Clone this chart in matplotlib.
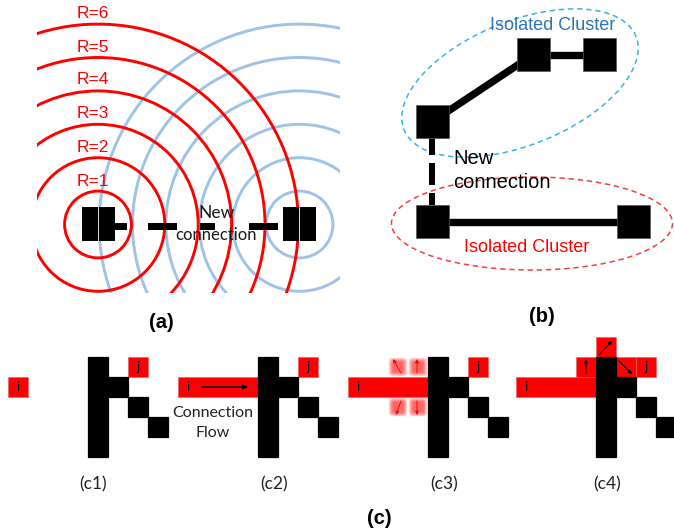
import matplotlib
matplotlib.use('Agg')
import matplotlib.pyplot as plt
from matplotlib.patches import Circle, Rectangle, Ellipse
import numpy as np

W, H = 674, 531
fig = plt.figure(figsize=(W / 100, H / 100), dpi=100)
ax = fig.add_axes([0, 0, 1, 1])

RED = '#FF0000'
BLUE_RING = '#9DC3E6'
SANS = ['Liberation Sans', 'DejaVu Sans']
CAL = ['Lato', 'DejaVu Sans']

# ---------------- panel (a) data ----------------
ring_levels = [1, 2, 3, 4, 5, 6]
ring_step = 33.4
red_center = (98, 224.5)
blue_center = (299.5, 224.5)
r_labels = ['R=1', 'R=2', 'R=3', 'R=4', 'R=5', 'R=6']
r_label_y = [182, 148, 113, 79, 48, 14]
r_label_x = 93
a_clip_box = (37, 0, 303, 293)
a_nodes = [(82, 207), (283, 207)]
a_node_size = (33, 34)
a_dashes = [(115, 127), (148, 177), (200, 215), (249, 278)]
a_dash_y = (223, 230)

clip = Rectangle(a_clip_box[:2], a_clip_box[2], a_clip_box[3], transform=ax.transData)
for k in ring_levels:
    c = Circle(blue_center, k * ring_step, fill=False, ec=BLUE_RING, lw=2.1, zorder=2)
    ax.add_patch(c)
    c.set_clip_path(clip)
for k in ring_levels:
    c = Circle(red_center, k * ring_step, fill=False, ec=RED, lw=2.1, zorder=3)
    ax.add_patch(c)
    c.set_clip_path(clip)
for lab, y in zip(r_labels, r_label_y):
    ax.text(r_label_x, y, lab, color=RED, fontsize=12.5, family=SANS,
            ha='center', va='center', zorder=5)
for (x, y) in a_nodes:
    ax.add_patch(Rectangle((x, y), a_node_size[0], a_node_size[1], fc='black', ec='none', zorder=6))
    ax.plot([x + 16, x + 16], [y, y + a_node_size[1]], color='white', lw=0.6, zorder=7)
for (x0, x1) in a_dashes:
    ax.add_patch(Rectangle((x0, a_dash_y[0]), x1 - x0, a_dash_y[1] - a_dash_y[0],
                           fc='black', ec='none', zorder=6))
ax.text(216, 213, 'New', fontsize=12.5, family=CAL, color='#1a1a1a', ha='center', va='center', zorder=8)
ax.text(216, 235, 'connection', fontsize=12, family=CAL, color='#1a1a1a', ha='center', va='center', zorder=8)
ax.text(161, 323, '(a)', fontsize=14.5, family=SANS, weight='bold', ha='center', va='center')

# ---------------- panel (b) data ----------------
b_nodes = [(416, 105), (517, 38), (583, 38), (416, 205), (617, 205)]
b_node_size = 33
b_edges = [(0, 1), (1, 2), (3, 4)]
b_dash_x = 432
b_dash_segments = [(137, 155), (163, 185), (193, 205)]

for i, j in b_edges:
    xa, ya = b_nodes[i][0] + b_node_size / 2, b_nodes[i][1] + b_node_size / 2
    xb, yb = b_nodes[j][0] + b_node_size / 2, b_nodes[j][1] + b_node_size / 2
    ax.plot([xa, xb], [ya, yb], color='black', lw=5.3, solid_capstyle='butt', zorder=4)
for (x, y) in b_nodes:
    ax.add_patch(Rectangle((x, y), b_node_size, b_node_size, fc='black', ec='#555555', lw=0.5, zorder=6))
for (y0, y1) in b_dash_segments:
    ax.add_patch(Rectangle((b_dash_x - 3, y0), 6, y1 - y0, fc='black', ec='none', zorder=5))
ax.add_patch(Ellipse((520, 83), 250, 124, angle=-22, fill=False, ec='#33B5E8',
                     lw=1.1, ls=(0, (3.5, 2.5)), zorder=3))
ax.add_patch(Ellipse((532, 223.5), 281, 93, angle=0, fill=False, ec='#F04040',
                     lw=1.1, ls=(0, (3.5, 2.5)), zorder=3))
ax.text(553, 26, 'Isolated Cluster', color='#2E75B6', fontsize=13, family=SANS, ha='center', va='center', zorder=8)
ax.text(527, 248, 'Isolated Cluster', color=RED, fontsize=13, family=SANS, ha='center', va='center', zorder=8)
ax.text(453, 159, 'New', fontsize=14.5, family=SANS, ha='left', va='center', zorder=8)
ax.text(453, 183, 'connection', fontsize=14.5, family=SANS, ha='left', va='center', zorder=8)
ax.text(542, 316, '(b)', fontsize=14.5, family=SANS, weight='bold', ha='center', va='center')

# ---------------- panel (c) data ----------------
cell = 20
row0_y = 357
c_origins = [88, 258, 428, 596]
c_labels = ['(c1)', '(c2)', '(c3)', '(c4)']
c_label_x = [93, 274, 444, 607]
black_cells = [(0, 0), (0, 1), (0, 2), (0, 3), (0, 4), (1, 1), (2, 2), (3, 3)]
j_cell = (2, 0)
i_cell_c1 = (-4, 1)
bar_span = (-4, 4)          # start column, number of cells (row 1)
c4_extra_red = [(-1, 0), (0, -1), (1, 0)]
c3_soft_cells = [(-2, 0), (-1, 0), (-2, 2), (-1, 2)]
c3_arrows = [((0.65, 0.8), (0.25, 0.1)), ((0.45, 0.8), (0.45, 0.1)),
             ((0.65, 0.2), (0.4, 0.9)), ((0.45, 0.2), (0.45, 0.9))]
c4_arrows = [((-1, 0), (0.5, 0.85), (0.5, 0.1)),
             ((0, -1), (0.15, 0.9), (0.8, 0.2)),
             ((1, 0), (0.15, 0.2), (0.8, 0.85))]


def cxy(ox, col, row):
    return ox + col * cell, row0_y + row * cell


def draw_cell(ox, col, row, color, ec, z=4, lw=0.4):
    x, y = cxy(ox, col, row)
    ax.add_patch(Rectangle((x, y), cell, cell, fc=color, ec=ec, lw=lw, zorder=z))


def label_cell(ox, col, row, s):
    x, y = cxy(ox, col, row)
    ax.text(x + cell / 2, y + cell / 2, s, fontsize=9.5, family=CAL, ha='center', va='center', zorder=9)


def arrow(p0, p1, color, lw=0.8, ms=6):
    ax.annotate('', xy=p1, xytext=p0,
                arrowprops=dict(arrowstyle='-|>', color=color, lw=lw, mutation_scale=ms,
                                shrinkA=0, shrinkB=0), zorder=9)


for k, ox in enumerate(c_origins):
    for (cc, rr) in black_cells:
        draw_cell(ox, cc, rr, 'black', 'black', z=5, lw=0.9)
    draw_cell(ox, j_cell[0], j_cell[1], RED, '#E06060')
    label_cell(ox, j_cell[0], j_cell[1], 'j')
    if k == 0:
        draw_cell(ox, i_cell_c1[0], i_cell_c1[1], RED, '#E06060')
        label_cell(ox, i_cell_c1[0], i_cell_c1[1], 'i')
    else:
        x, y = cxy(ox, bar_span[0], 1)
        ax.add_patch(Rectangle((x, y), bar_span[1] * cell, cell, fc=RED, ec='#E06060', lw=0.4, zorder=4))
        label_cell(ox, bar_span[0], 1, 'i')
    ax.text(c_label_x[k], 484, c_labels[k], fontsize=12.5, family=CAL, color='#222222',
            ha='center', va='center')

# c2 flow arrow and text
ox = c_origins[1]
arrow((ox - 56, 387), (ox - 10, 387), 'black', lw=1.0, ms=7)
ax.text(213, 413, 'Connection', fontsize=11.5, family=CAL, color='#222222', ha='center', va='center')
ax.text(213, 433, 'Flow', fontsize=11.5, family=CAL, color='#222222', ha='center', va='center')

# c3 soft cells
ox = c_origins[2]
n = 40
t = np.linspace(0, 1, n)
f = np.clip(np.minimum(t, 1 - t) / 0.3, 0, 1)
f = np.sin(f * np.pi / 2)
alpha = np.outer(f, f) * 0.6
rgba = np.zeros((n, n, 4))
rgba[..., 0] = 1.0
rgba[..., 3] = alpha
for (cc, rr) in c3_soft_cells:
    x, y = cxy(ox, cc, rr)
    ax.imshow(rgba, extent=(x, x + cell, y + cell, y), interpolation='bilinear', zorder=3)
for (cc, rr), ((ax0, ay0), (ax1, ay1)) in zip(c3_soft_cells, c3_arrows):
    x, y = cxy(ox, cc, rr)
    arrow((x + ax0 * cell, y + ay0 * cell), (x + ax1 * cell, y + ay1 * cell), RED, lw=0.7, ms=5)

# c4 extra red cells and arrows
ox = c_origins[3]
for (cc, rr) in c4_extra_red:
    draw_cell(ox, cc, rr, RED, '#E06060')
for (cc, rr), (ax0, ay0), (ax1, ay1) in c4_arrows:
    x, y = cxy(ox, cc, rr)
    arrow((x + ax0 * cell, y + ay0 * cell), (x + ax1 * cell, y + ay1 * cell), 'black', lw=0.7, ms=5)

ax.text(379, 518, '(c)', fontsize=14.5, family=SANS, weight='bold', ha='center', va='center')

ax.set_xlim(0, W)
ax.set_ylim(H, 0)
ax.set_aspect('auto')
ax.axis('off')
fig.savefig('out.png', dpi=100, facecolor='white')
